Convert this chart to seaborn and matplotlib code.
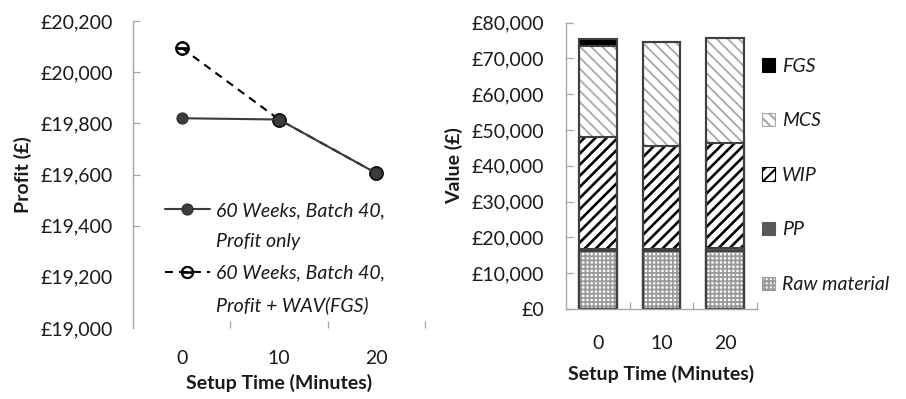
import numpy as np
import pandas as pd
import matplotlib
matplotlib.use("Agg")
import matplotlib.pyplot as plt
from matplotlib.lines import Line2D
from matplotlib.patches import Patch
from matplotlib.ticker import FuncFormatter
import seaborn as sns

# ---- data -------------------------------------------------------------
setup_times = ["0", "10", "20"]            # setup time (minutes)

profit_only = [19820, 19815, 19605]        # 60 weeks, batch 40, profit only
profit_wav_fgs = [20095, 19815, 19605]     # 60 weeks, batch 40, profit + WAV(FGS)

raw_material = [16300, 16300, 16100]
pp = [500, 500, 900]
wip = [31200, 28700, 29400]
mcs = [25400, 29000, 29400]
fgs = [2150, 0, 0]

line_labels = ["60 Weeks, Batch 40,\nProfit only",
               "60 Weeks, Batch 40,\nProfit + WAV(FGS)"]
stack_names = ["Raw material", "PP", "WIP", "MCS", "FGS"]

# ---- style ------------------------------------------------------------
sns.set_theme(style="white")
plt.rcParams["font.family"] = ["Lato", "DejaVu Sans"]
plt.rcParams["hatch.linewidth"] = 1.5

AXIS_GREY = "#a6a6a6"
TEXT = "#1a1a1a"
FS = 14

fig = plt.figure(figsize=(9.06, 3.99), dpi=100)
ax1 = fig.add_axes([0.1468, 0.1779, 0.3223, 0.7694])
ax2 = fig.add_axes([0.6247, 0.2256, 0.2108, 0.7175])

pound = FuncFormatter(lambda v, _: f"£{v:,.0f}")

# ---- left: profit lines -----------------------------------------------
pos = np.arange(len(setup_times))
line_df = pd.DataFrame({"pos": pos, "only": profit_only, "wav": profit_wav_fgs})

dash = (0, (3.8, 2.9))
sns.lineplot(data=line_df, x="pos", y="wav", ax=ax1, color="black",
             linewidth=1.5, linestyle=dash, marker="$\\ominus$",
             markersize=10, markeredgewidth=0.6, markeredgecolor="black",
             markerfacecolor="black")
sns.lineplot(data=line_df, x="pos", y="only", ax=ax1, color="#3c3c3c",
             linewidth=1.5, marker="o", markersize=8,
             markeredgecolor="#2e2e2e", markeredgewidth=0.8)

ax1.set_xlim(-0.5, 2.5)
ax1.set_ylim(19000, 20200)
ax1.set_yticks(np.arange(19000, 20201, 200))
ax1.yaxis.set_major_formatter(pound)
ax1.set_xticks(pos, labels=setup_times)
ax1.set_xticks([0.5, 1.5, 2.5], minor=True)

for side in ["top", "right", "bottom"]:
    ax1.spines[side].set_visible(False)
ax1.spines["left"].set_color(AXIS_GREY)
ax1.spines["left"].set_linewidth(1.0)

ax1.tick_params(axis="y", left=True, direction="in", length=5, width=0.9,
                color=AXIS_GREY, pad=14.4, labelsize=FS, labelcolor=TEXT)
ax1.tick_params(axis="x", which="major", bottom=True, length=0, pad=16,
                labelsize=FS, labelcolor=TEXT)
ax1.tick_params(axis="x", which="minor", bottom=True, direction="in",
                length=5, width=0.9, color=AXIS_GREY)
# the lowest two ticks sit behind the legend
for t in ax1.yaxis.get_major_ticks()[:2]:
    t.tick1line.set_visible(False)

ax1.set_xlabel("Setup Time (Minutes)", fontsize=FS, fontweight="bold",
               color=TEXT, labelpad=5)
ax1.set_ylabel("Profit (£)", fontsize=FS, fontweight="bold", color=TEXT,
               labelpad=6)

h_only = Line2D([], [], color="#3c3c3c", lw=1.5, marker="o", ms=8,
                mec="#2e2e2e", mew=0.8)
h_wav = Line2D([], [], color="black", lw=1.5, ls=dash, marker="$\\ominus$",
               ms=9, mew=0.6, mec="black", mfc="black")
blank = Line2D([], [], alpha=0)
first0, second0 = line_labels[0].split("\n")
first1, second1 = line_labels[1].split("\n")
ax1.legend([h_only, blank, h_wav, blank], [first0, second0, first1, second1],
           loc="upper left", bbox_to_anchor=(0.182, 0.494),
           bbox_transform=fig.transFigure, frameon=False,
           prop={"style": "italic", "size": FS}, labelcolor=TEXT,
           handlelength=2.3, handletextpad=0.35, labelspacing=0.74,
           borderpad=0, borderaxespad=0)

# ---- right: stacked inventory value -----------------------------------
layers = [raw_material, pp, wip, mcs, fgs]
cumulative = np.cumsum(np.array(layers, dtype=float), axis=0)

seg_style = {
    "Raw material": dict(color="white", hatch="++++", edgecolor="#9a9a9a", hlw=1.3),
    "PP": dict(color="#595959", hatch=None, edgecolor="#595959", hlw=1.0),
    "WIP": dict(color="white", hatch="///", edgecolor="#000000", hlw=1.9),
    "MCS": dict(color="white", hatch="\\\\\\", edgecolor="#a8a8a8", hlw=1.3),
    "FGS": dict(color="black", hatch=None, edgecolor="black", hlw=1.0),
}
BAR_W = 0.59

# draw cumulative totals from the top segment down so each overlays the next
for idx in range(len(stack_names) - 1, -1, -1):
    name = stack_names[idx]
    st = seg_style[name]
    before = len(ax2.patches)
    with plt.rc_context({"hatch.linewidth": st["hlw"]}):
        sns.barplot(x=setup_times, y=cumulative[idx], ax=ax2, color=st["color"],
                    saturation=1, width=BAR_W, edgecolor=st["edgecolor"],
                    linewidth=0, hatch=st["hatch"], order=setup_times)
    for p in ax2.patches[before:]:
        if hasattr(p, "set_hatch_linewidth"):
            p.set_hatch_linewidth(st["hlw"])

# segment outlines
for idx in range(len(stack_names)):
    sns.barplot(x=setup_times, y=cumulative[idx], ax=ax2, color="#404040",
                saturation=1, width=BAR_W, fill=False, linewidth=1.5,
                order=setup_times)

ax2.set_xlim(-0.5, 2.5)
ax2.set_ylim(0, 80000)
ax2.set_yticks(np.arange(0, 80001, 10000))
ax2.yaxis.set_major_formatter(pound)
ax2.set_xticks(pos, labels=setup_times)
ax2.set_xticks([0.5, 1.5, 2.5], minor=True)

for side in ["top", "right"]:
    ax2.spines[side].set_visible(False)
for side in ["left", "bottom"]:
    ax2.spines[side].set_color(AXIS_GREY)
    ax2.spines[side].set_linewidth(1.0)

ax2.tick_params(axis="y", left=True, direction="in", length=5, width=0.9,
                color=AXIS_GREY, pad=15.8, labelsize=FS, labelcolor=TEXT)
ax2.tick_params(axis="x", which="major", bottom=True, length=0, pad=19,
                labelsize=FS, labelcolor=TEXT)
ax2.tick_params(axis="x", which="minor", bottom=True, direction="in",
                length=5, width=0.9, color=AXIS_GREY)

ax2.set_xlabel("Setup Time (Minutes)", fontsize=FS, fontweight="bold",
               color=TEXT, labelpad=9)
ax2.set_ylabel("Value (£)", fontsize=FS, fontweight="bold", color=TEXT,
               labelpad=6)

legend_handles = []
for name in reversed(stack_names):
    st = seg_style[name]
    legend_handles.append(Patch(facecolor=st["color"], hatch=st["hatch"],
                                edgecolor=st["edgecolor"], linewidth=0.8))
ax2.legend(legend_handles, list(reversed(stack_names)), loc="upper left",
           bbox_to_anchor=(0.841, 0.855), bbox_transform=fig.transFigure,
           frameon=False, prop={"style": "italic", "size": FS},
           labelcolor=TEXT, handlelength=0.67, handleheight=0.67,
           handletextpad=0.36, labelspacing=1.93, borderpad=0,
           borderaxespad=0)

fig.savefig("out.png", dpi=100)
